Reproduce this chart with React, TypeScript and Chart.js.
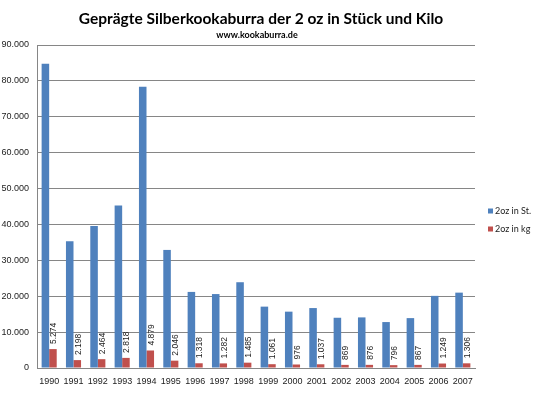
import React, { useEffect, useRef } from "react";
import { Chart, registerables } from "chart.js";

Chart.register(...registerables);

const years = ["1990","1991","1992","1993","1994","1995","1996","1997","1998","1999","2000","2001","2002","2003","2004","2005","2006","2007"];
const stueck = [84800, 35300, 39600, 45300, 78400, 32900, 21200, 20600, 23900, 17100, 15700, 16700, 14000, 14100, 12800, 13900, 20100, 21000];
const kilo = [5274, 2198, 2464, 2818, 4879, 2046, 1318, 1282, 1485, 1061, 976, 1037, 869, 876, 796, 867, 1249, 1306];
const seriesNames = ["2oz in St.", "2oz in kg"];
const seriesColors = ["#4F81BD", "#C0504D"];
const titleText = "Geprägte Silberkookaburra der 2 oz in Stück und Kilo";
const subtitleText = "www.kookaburra.de";

const fmt = (v: number) => String(Math.round(v)).replace(/\B(?=(\d{3})+(?!\d))/g, ".");

const labelPlugin = {
  id: "redLabels",
  afterDatasetsDraw(chart: any) {
    const meta = chart.getDatasetMeta(1);
    const ctx = chart.ctx;
    ctx.save();
    ctx.fillStyle = "#222";
    ctx.font = "8.5px 'Liberation Sans', Arial, sans-serif";
    ctx.textAlign = "left";
    ctx.textBaseline = "middle";
    meta.data.forEach((el: any, i: number) => {
      ctx.save();
      ctx.translate(el.x + 1, el.y - 5);
      ctx.rotate(-Math.PI / 2);
      ctx.fillText(fmt(kilo[i]), 0, 0);
      ctx.restore();
    });
    ctx.restore();
  },
};

const textPlugin = {
  id: "titleLegend",
  afterDraw(chart: any) {
    const ctx = chart.ctx;
    ctx.save();
    ctx.fillStyle = "#000";
    ctx.textAlign = "center";
    ctx.textBaseline = "middle";
    ctx.font = "bold 15.5px Lato, 'Liberation Sans', sans-serif";
    ctx.fillText(titleText, 261, 19);
    ctx.font = "bold 9px Lato, 'Liberation Sans', sans-serif";
    ctx.fillText(subtitleText, 257, 35);
    ctx.textAlign = "left";
    ctx.font = "9px Lato, 'Liberation Sans', sans-serif";
    const ys = [211, 229];
    seriesNames.forEach((n, i) => {
      ctx.fillStyle = seriesColors[i];
      ctx.fillRect(488, ys[i] - 2.5, 5, 5);
      ctx.fillStyle = "#222";
      ctx.fillText(n, 495, ys[i]);
    });
    ctx.restore();
  },
};

export default function App() {
  const ref = useRef<HTMLCanvasElement | null>(null);
  useEffect(() => {
    if (!ref.current) return;
    const chart = new Chart(ref.current, {
      type: "bar",
      data: {
        labels: years,
        datasets: [
          { label: seriesNames[0], data: stueck, backgroundColor: seriesColors[0], barPercentage: 1, categoryPercentage: 0.62 },
          { label: seriesNames[1], data: kilo, backgroundColor: seriesColors[1], barPercentage: 1, categoryPercentage: 0.62 },
        ],
      },
      options: {
        animation: false,
        responsive: false,
        maintainAspectRatio: false,
        layout: { padding: { left: 0, right: 65, top: 45, bottom: 0 } },
        plugins: {
          legend: { display: false },
          tooltip: { enabled: false },
          title: { display: false },
        },
        scales: {
          x: {
            grid: { display: false, drawTicks: false },
            border: { display: true, color: "#868686" },
            ticks: { color: "#222", font: { family: "'Liberation Sans', Arial, sans-serif", size: 9 }, padding: 8, maxRotation: 0, autoSkip: false },
            afterFit: (s: any) => { s.height = 30; },
          },
          y: {
            min: 0,
            max: 90000,
            grid: { color: "#868686", drawTicks: false },
            border: { display: true, color: "#868686" },
            ticks: { stepSize: 10000, color: "#222", font: { family: "'Liberation Sans', Arial, sans-serif", size: 9 }, padding: 8, callback: (v: any) => fmt(Number(v)) },
            afterFit: (s: any) => { s.width = 37; },
          },
        },
      },
      plugins: [labelPlugin, textPlugin],
    });
    return () => chart.destroy();
  }, []);
  return (
    <div style={{ position: "absolute", left: 0, top: 0, width: 540, height: 398, background: "#fff" }}>
      <canvas ref={ref} width={540} height={398} />
    </div>
  );
}
